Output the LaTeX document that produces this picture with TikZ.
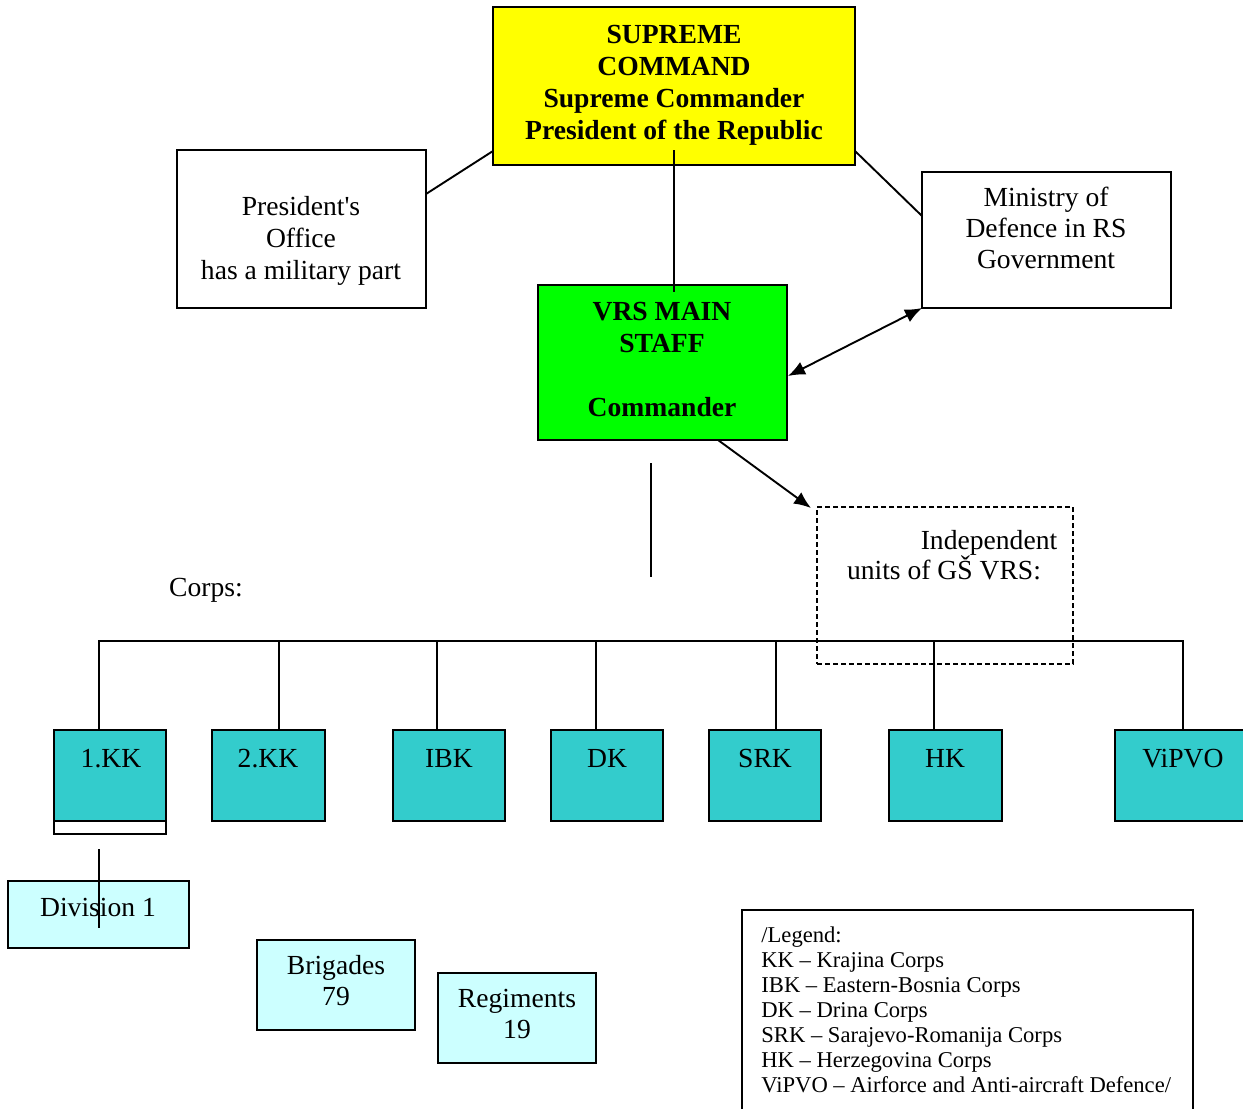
\documentclass[tikz,border=0pt]{standalone}
\usepackage{fontspec}
\setmainfont{Liberation Serif}[Ligatures=TeXOff]
\usetikzlibrary{calc,arrows.meta}
\definecolor{yel}{HTML}{FFFF00}
\definecolor{grn}{HTML}{00FF00}
\definecolor{corpsc}{HTML}{33CCCC}
\definecolor{lcyan}{HTML}{CCFFFF}
\newcommand\mkbox[6]{\node[box,#6,minimum width={(#4-#2)*0.5pt},minimum height={(#5-#3)*0.5pt}] (#1) at ({(#2+#4)/2},{(#3+#5)/2}) {};}
\begin{document}
\begin{tikzpicture}[x=0.5pt,y=-0.5pt,
  box/.style={draw, line width=1pt, inner sep=0pt, outer sep=0pt},
  txt/.style={inner sep=0pt, outer sep=0pt, font=\fontsize{13.8}{16}\selectfont, align=center},
  btxt/.style={inner sep=0pt, outer sep=0pt, font=\fontsize{13.8}{16}\selectfont\bfseries, align=center},
  conn/.style={line width=0.95pt},
  >={Latex[length=8.5pt,width=7pt]},
]
\useasboundingbox (0,0) rectangle (1243,1109);
\clip (0,0) rectangle (1243,1109);

% boxes
\mkbox{sup}{493}{7}{855}{165}{fill=yel}
\mkbox{office}{177}{150}{426}{308}{fill=white}
\mkbox{min}{922}{172}{1171}{308}{fill=white}
\mkbox{vrs}{538}{285}{787}{440}{fill=grn}
\mkbox{ind}{817}{507}{1073}{664}{dashed,dash pattern=on 2.4pt off 1.6pt}
\mkbox{kk1}{54}{730}{166}{821}{fill=corpsc}
\mkbox{kk1s}{54}{821}{166}{834}{fill=white}
\mkbox{kk2}{212}{730}{325}{821}{fill=corpsc}
\mkbox{ibk}{393}{730}{505}{821}{fill=corpsc}
\mkbox{dk}{551}{730}{663}{821}{fill=corpsc}
\mkbox{srk}{709}{730}{821}{821}{fill=corpsc}
\mkbox{hk}{889}{730}{1002}{821}{fill=corpsc}
\mkbox{vipvo}{1115}{730}{1251}{821}{fill=corpsc}
\mkbox{div}{8}{881}{189}{948}{fill=lcyan}
\mkbox{brig}{257}{940}{415}{1030}{fill=lcyan}
\mkbox{reg}{438}{973}{596}{1063}{fill=lcyan}
\mkbox{leg}{742}{910}{1193}{1130}{fill=white}

% texts
\node[btxt] (tsup) at (674,85) {SUPREME\\COMMAND\\Supreme Commander\\President of the Republic};
\node[txt] (toff) at (301,241) {President's\\Office\\has a military part};
\node[txt,font=\fontsize{13.8}{15.5}\selectfont] (tmin) at (1046,228) {Ministry of\\Defence in RS\\Government};
\node[btxt] (tvrs) at (662,359) {VRS MAIN\\STAFF\\[16pt]Commander};
\node[txt,anchor=base] (tind1) at (989,549) {Independent};
\node[txt,anchor=base] (tind2) at (944,579) {units of GŠ VRS:};
\node[txt,anchor=base] (tcorps) at (206,596) {Corps:};
\node[txt,anchor=base] (tkk1) at (111,767) {1.KK};
\node[txt,anchor=base] (tkk2) at (268,767) {2.KK};
\node[txt,anchor=base] (tibk) at (449,767) {IBK};
\node[txt,anchor=base] (tdk) at (607,767) {DK};
\node[txt,anchor=base] (tsrk) at (765,767) {SRK};
\node[txt,anchor=base] (thk) at (945,767) {HK};
\node[txt,anchor=base] (tvipvo) at (1183,767) {ViPVO};
\node[txt,anchor=base] (tdiv) at (98,916) {Division 1};
\node[txt,font=\fontsize{13.8}{15.5}\selectfont] (tbrig) at (336,981) {Brigades\\79};
\node[txt,font=\fontsize{13.8}{15.5}\selectfont] (treg) at (517,1014) {Regiments\\19};
\node[inner sep=0pt, anchor=north west, align=left, font=\fontsize{11.3}{12.5}\selectfont] (tleg) at (761,926)
  {/Legend:\\KK – Krajina Corps\\IBK – Eastern-Bosnia Corps\\DK – Drina Corps\\SRK – Sarajevo-Romanija Corps\\HK – Herzegovina Corps\\ViPVO – Airforce and Anti-aircraft Defence/};

% connectors
\draw[conn] ($(office.north east)+(0,44)$) -- ($(sup.south west)+(0,-14)$);
\draw[conn] ($(sup.south east)+(0,-14)$) -- ($(min.north west)+(0,44)$);
\draw[conn] ($(sup.south)+(0,-15)$) -- ($(vrs.north)+(11.5,7)$);
\draw[conn,<->] ($(vrs.north east)+(1,91)$) -- (min.south west);
\draw[conn,->] ($(vrs.south)+(55.5,0)$) -- ($(ind.north west)+(-6,1)$);
\coordinate (f1) at (651,463);
\coordinate (f2) at (651,577);
\draw[conn] (f1) -- (f2);
\draw[conn] ($(kk1.north)+(-11,0)$) |- ($(vipvo.north)+(0,-89)$) -- (vipvo.north);
\draw[conn] ($(kk2.north)+(10.5,0)$) -- ++(0,-89);
\draw[conn] ($(ibk.north)+(-12,0)$) -- ++(0,-89);
\draw[conn] ($(dk.north)+(-11,0)$) -- ++(0,-89);
\draw[conn] ($(srk.north)+(11,0)$) -- ++(0,-89);
\draw[conn] ($(hk.north)+(-11.5,0)$) -- ++(0,-89);
\draw[conn] ($(div.north)+(0.5,-32)$) -- ($(div.north)+(0.5,47)$);
\end{tikzpicture}
\end{document}
